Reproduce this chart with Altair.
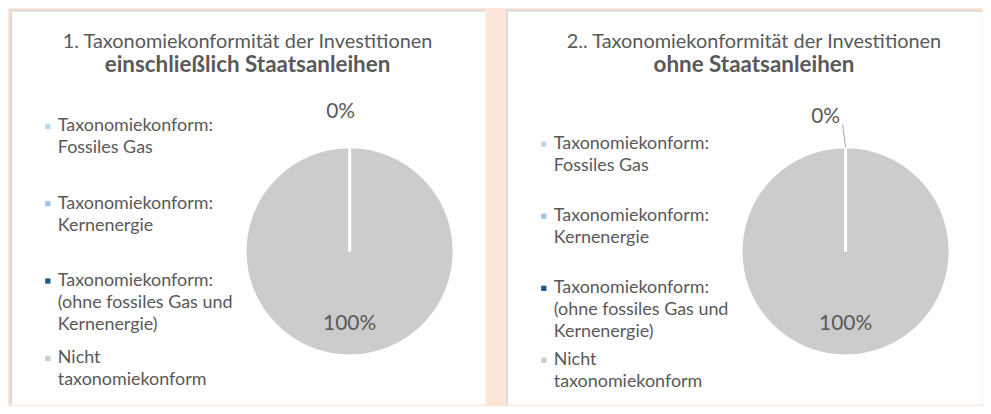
import altair as alt
import pandas as pd

# ---- data ----
categories = [
    "Taxonomiekonform: Fossiles Gas",
    "Taxonomiekonform: Kernenergie",
    "Taxonomiekonform: (ohne fossiles Gas und Kernenergie)",
    "Nicht taxonomiekonform",
]
legend_labels = [
    "Taxonomiekonform:\nFossiles Gas",
    "Taxonomiekonform:\nKernenergie",
    "Taxonomiekonform:\n(ohne fossiles Gas und\nKernenergie)",
    "Nicht\ntaxonomiekonform",
]
colors = ["#bdd7ee", "#9dc3e6", "#1f5a8a", "#cccccc"]
values_incl = [0, 0, 0, 100]
values_excl = [0, 0, 0, 100]
titles_incl = ["1. Taxonomiekonformität der Investitionen", "einschließlich Staatsanleihen"]
titles_excl = ["2.. Taxonomiekonformität der Investitionen", "ohne Staatsanleihen"]

FONT = "Lato"
TEXT = "#595959"
H = 396
W1, W2 = 477, 478
CX, CY = 341, 242.5


def panel(values, titles, W, legend_range, zero_r, zero_dx, title_dx, leader):
    df = pd.DataFrame({
        "cat": categories,
        "label": legend_labels,
        "value": values,
        "pct": [f"{v}%" for v in values],
    })
    color = alt.Color("cat:N", scale=alt.Scale(domain=categories, range=colors), legend=None)
    theta = alt.Theta("value:Q", stack=True)

    arcs = alt.Chart(df.iloc[::-1]).mark_arc(
        outerRadius=105, stroke="white", strokeWidth=3
    ).encode(theta=theta, color=color, x=alt.value(CX), y=alt.value(CY))

    zero_lbl = alt.Chart(df.iloc[[0]]).mark_text(
        radius=zero_r, dx=zero_dx, font=FONT, fontSize=21, color=TEXT, baseline="middle"
    ).encode(theta=theta, text="pct:N", x=alt.value(CX), y=alt.value(CY))

    main_lbl = alt.Chart(df.iloc[[3]]).mark_text(
        radius=73, font=FONT, fontSize=21, color=TEXT, baseline="middle"
    ).encode(theta=theta, text="pct:N", x=alt.value(CX), y=alt.value(CY))

    leg_y = alt.Y("cat:N", sort=categories,
                  scale=alt.Scale(type="point", range=legend_range, padding=0), axis=None)
    squares = alt.Chart(df).mark_square(size=28, opacity=1).encode(
        x=alt.value(38), y=leg_y, color=color)
    texts = alt.Chart(df).mark_text(
        align="left", baseline="middle", lineBreak="\n", lineHeight=22,
        font=FONT, fontSize=18, color=TEXT
    ).encode(x=alt.value(48), y=leg_y, text="label:N")

    tdf = pd.DataFrame({"t1": [titles[0]], "t2": [titles[1]]})
    t1 = alt.Chart(tdf).mark_text(font=FONT, fontSize=20, color=TEXT, baseline="middle").encode(
        text="t1:N", x=alt.value(W / 2 + title_dx), y=alt.value(32))
    t2 = alt.Chart(tdf).mark_text(font=FONT, fontSize=22.5, fontWeight="bold", color=TEXT,
                                  baseline="middle").encode(
        text="t2:N", x=alt.value(W / 2 + title_dx), y=alt.value(55))

    bdf = pd.DataFrame({"a": [0]})
    left_b = alt.Chart(bdf).mark_rule(color="#d9d9d9", strokeWidth=2).encode(
        x=alt.value(1), y=alt.value(0), y2=alt.value(H))
    top_b = alt.Chart(bdf).mark_rule(color="#d9d9d9", strokeWidth=2).encode(
        x=alt.value(0), x2=alt.value(W), y=alt.value(1))

    layers = [left_b, top_b, t1, t2, arcs, zero_lbl, main_lbl, squares, texts]
    if leader:
        layers.append(alt.Chart(bdf).mark_rule(color="#a6a6a6", strokeWidth=1).encode(
            x=alt.value(leader[0]), y=alt.value(leader[1]),
            x2=alt.value(leader[2]), y2=alt.value(leader[3])))
    return alt.layer(*layers).properties(width=W, height=H)


p1 = panel(values_incl, titles_incl, W1, [117, 350], 140, -9, 0, None)
p2 = panel(values_excl, titles_excl, W2, [135, 352], 134.5, -20, 10, (338, 115, 341, 138))

chart = alt.hconcat(p1, p2, spacing=19).resolve_scale(
    x="independent", y="independent"
).configure(
    background="#fbe5d6",
    padding={"left": 1, "top": 0, "right": 0, "bottom": 0},
).configure_view(fill="white", strokeOpacity=0)

chart.save("out.html", embed_options={"renderer": "svg", "actions": False})
